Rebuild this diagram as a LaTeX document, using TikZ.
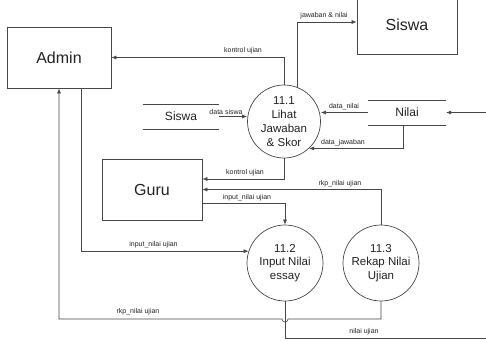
\documentclass[tikz,border=0pt]{standalone}
\usepackage{fontspec}
\setmainfont{Liberation Sans}
\usetikzlibrary{arrows.meta,calc}
\definecolor{lc}{HTML}{474747}
\definecolor{tc}{HTML}{222222}
\begin{document}
\begin{tikzpicture}[x=1pt,y=-1pt,
  every node/.style={text=tc},
  entity/.style={draw=lc,line width=0.7pt,font=\fontsize{16}{19}\selectfont,inner sep=0pt},
  proc/.style={circle,draw=lc,line width=0.7pt,minimum size=76pt,align=center,
    font=\fontsize{11.5}{13.8}\selectfont,inner sep=0pt},
  storetxt/.style={font=\fontsize{12}{14}\selectfont,inner sep=0pt,minimum height=25pt},
  storeline/.style={draw=lc,line width=0.6pt},
  flow/.style={draw=lc,line width=0.6pt,-{Latex[length=5pt,width=4pt]}},
  wire/.style={draw=lc,line width=0.6pt},
  lbl/.style={font=\fontsize{7}{8}\selectfont,inner sep=0pt}]
\useasboundingbox (0,0) rectangle (486,340);

% external entities
\node[entity,minimum width=104pt,minimum height=61pt] (ad) at (59,57.5) {Admin};
\node[entity,minimum width=100pt,minimum height=58pt] (sis) at (407,25) {Siswa};
\node[entity,minimum width=100pt,minimum height=61pt] (gu) at (152,189.5) {Guru};

% processes
\node[proc,minimum size=73pt] (p1) at (284,121.5) {11.1\\Lihat\\Jawaban\\\& Skor};
\node[proc] (p2) at (285,263) {11.2\\Input Nilai\\essay};
\node[proc] (p3) at (381,263) {11.3\\Rekap Nilai\\Ujian};

% data stores
\node[storetxt,minimum width=76pt] (ss) at (181,116.5) {Siswa};
\node[storetxt,minimum width=78pt] (ni) at (407,112.5) {Nilai};
\draw[storeline] (ss.north west) -- (ss.north east) (ss.south west) -- (ss.south east);
\draw[storeline] (ni.north west) -- (ni.north east) (ni.south west) -- (ni.south east);

% free ends at the right border
\coordinate (nin) at (486,112.5);
\coordinate (nout) at (486,338);

% data flows
\draw[flow] (p1.north) |- (ad.east);
\draw[flow] (p1.69) |- ([yshift=3pt]sis.west);
\draw[flow] (ss.east) -- (ss.east -| p1.west);
\draw[flow] (ni.west) -- (ni.west -| p1.east);
\draw[flow] ([xshift=-4pt]ni.south) |- (p1.-47);
\draw[flow] (nin) -- (ni.east);
\draw[flow] (p1.south) |- ([yshift=10.5pt]gu.east);
\draw[flow] (p3.north) |- (gu.east);
\draw[flow] ([yshift=-13.5pt]gu.east) -| (p2.north);
\draw[flow] ([xshift=22pt]ad.south) |- (p2.162);
\draw[flow] (p3.south) |- ($(p2.south |- 0,319)+(3,0)$)
  arc[start angle=0,end angle=-180,radius=3pt] -| (ad.south);
\draw[wire] (p2.south) |- (nout);

% flow labels
\node[lbl] (l1) at (243,51) {kontrol ujian};
\node[lbl] (l2) at (324,16) {jawaban \& nilai};
\node[lbl] (l3) at (226,112) {data siswa};
\node[lbl] (l4) at (344,107) {data\_nilai};
\node[lbl] (l5) at (343,143) {data\_jawaban};
\node[lbl] (l6) at (245,173) {kontrol ujian};
\node[lbl] (l7) at (340,184) {rkp\_nilai ujian};
\node[lbl] (l8) at (247,198) {input\_nilai ujian};
\node[lbl] (l9) at (153.5,245) {input\_nilai ujian};
\node[lbl] (l10) at (138,312) {rkp\_nilai ujian};
\node[lbl] (l11) at (364,332) {nilai ujian};
\end{tikzpicture}
\end{document}
